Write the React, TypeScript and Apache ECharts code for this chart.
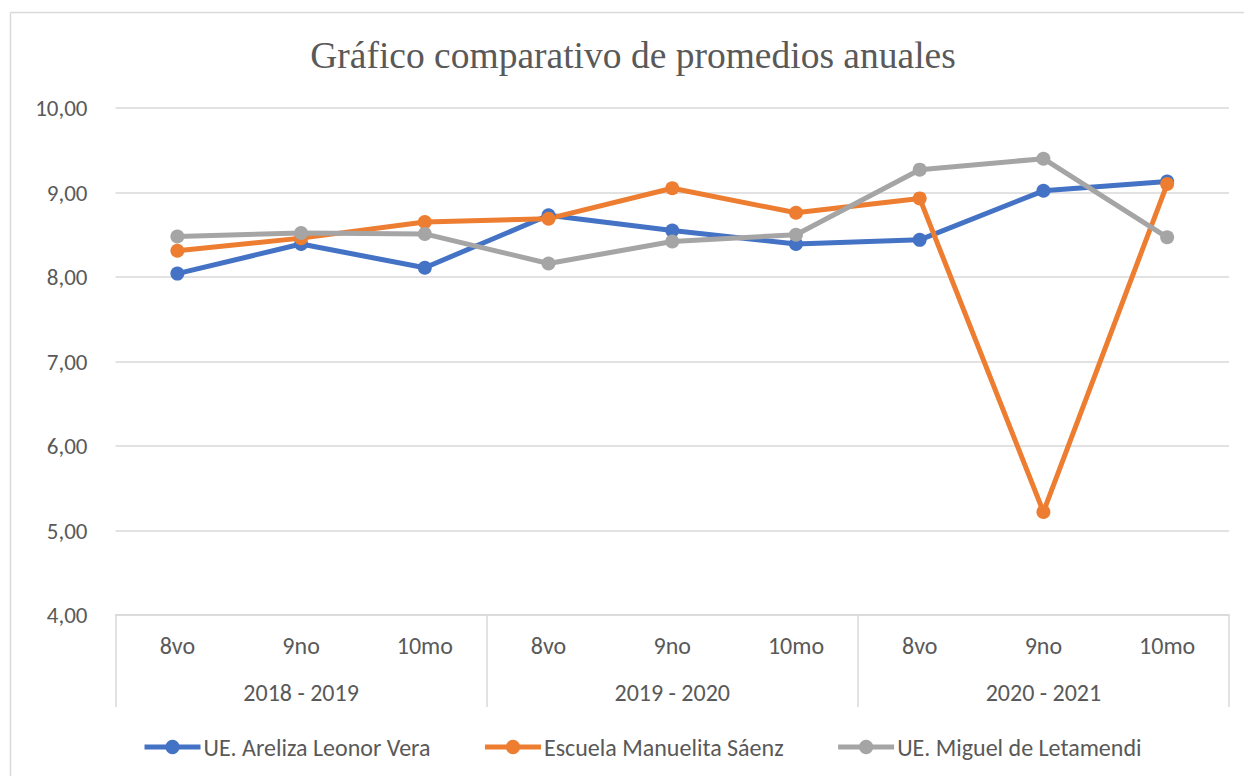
import React, { useEffect, useRef } from "react";
import * as echarts from "echarts";

const grades = ["8vo", "9no", "10mo", "8vo", "9no", "10mo", "8vo", "9no", "10mo"];
const years = ["2018 - 2019", "2019 - 2020", "2020 - 2021"];
const seriesNames = ["UE. Areliza Leonor Vera", "Escuela Manuelita Sáenz", "UE. Miguel de Letamendi"];
const areliza = [8.04, 8.39, 8.11, 8.73, 8.55, 8.39, 8.44, 9.02, 9.13];
const manuelita = [8.31, 8.46, 8.65, 8.69, 9.05, 8.76, 8.93, 5.22, 9.1];
const letamendi = [8.48, 8.52, 8.51, 8.16, 8.42, 8.5, 9.27, 9.4, 8.47];
const colors = ["#4472C4", "#ED7D31", "#A5A5A5"];

const TXT = "#595959";
const GRID = "#D9D9D9";
const SANS = "Carlito, Lato, 'Noto Sans', sans-serif";

export default function App() {
  const ref = useRef<HTMLDivElement>(null);
  useEffect(() => {
    if (!ref.current) return;
    const chart = echarts.init(ref.current, undefined, { renderer: "svg" });
    const values = [areliza, manuelita, letamendi];
    chart.setOption({
      animation: false,
      backgroundColor: "#ffffff",
      title: {
        text: "Gráfico comparativo de promedios anuales",
        left: 633,
        top: 36,
        padding: 0,
        textAlign: "center",
        textStyle: {
          fontFamily: "'Liberation Serif', 'Times New Roman', serif",
          fontSize: 37.5,
          fontWeight: "normal",
          color: TXT,
        },
      },
      legend: {
        left: 142,
        top: 735,
        padding: 0,
        itemWidth: 56,
        itemHeight: 18,
        itemGap: 52,
        lineStyle: { width: 5 },
        textStyle: { fontFamily: SANS, fontSize: 24, color: TXT, padding: [0, 0, 0, -2] },
        data: seriesNames,
      },
      grid: { left: 115.5, right: 15, top: 108, bottom: 161 },
      xAxis: [
        {
          type: "category",
          data: grades,
          position: "bottom",
          boundaryGap: true,
          axisLine: { show: true, lineStyle: { color: GRID, width: 1.5 } },
          axisTick: { show: false },
          axisLabel: { interval: 0, margin: 18, fontFamily: SANS, fontSize: 24, color: TXT },
        },
        {
          type: "category",
          data: years,
          position: "bottom",
          boundaryGap: true,
          axisLine: { show: false },
          axisTick: { show: true, interval: 0, length: 92, lineStyle: { color: GRID, width: 1.5 } },
          axisLabel: { interval: 0, margin: 65, fontFamily: SANS, fontSize: 24, color: TXT },
        },
      ],
      yAxis: {
        type: "value",
        min: 4,
        max: 10,
        interval: 1,
        axisLine: { show: false },
        axisTick: { show: false },
        splitLine: { lineStyle: { color: GRID, width: 1.5 } },
        axisLabel: {
          margin: 28,
          fontFamily: SANS,
          fontSize: 23,
          color: TXT,
          formatter: (v: number) => v.toFixed(2).replace(".", ","),
        },
      },
      graphic: [
        { type: "line", shape: { x1: 10.5, y1: 12.5, x2: 1244, y2: 12.5 }, style: { stroke: GRID, lineWidth: 1.5 } },
        { type: "line", shape: { x1: 10.5, y1: 12.5, x2: 10.5, y2: 776 }, style: { stroke: GRID, lineWidth: 1.5 } },
      ],
      series: seriesNames.map((name, i) => ({
        name,
        type: "line",
        xAxisIndex: 0,
        data: values[i],
        symbol: "circle",
        symbolSize: 14,
        showSymbol: true,
        lineStyle: { color: colors[i], width: 5 },
        itemStyle: { color: colors[i] },
      })),
    });
    return () => chart.dispose();
  }, []);
  return (
    <div
      ref={ref}
      style={{ position: "absolute", left: 0, top: 0, width: 1244, height: 776 }}
    />
  );
}
